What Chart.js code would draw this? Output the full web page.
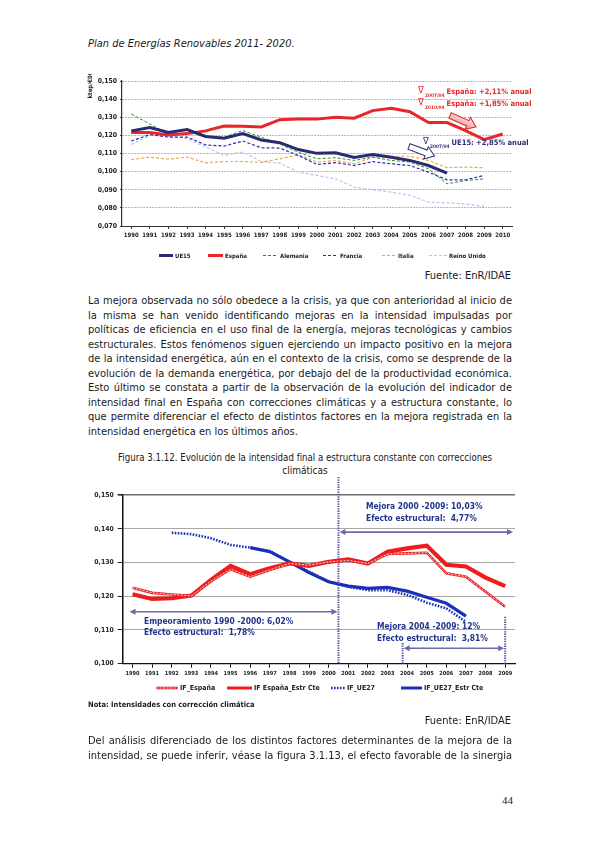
<!DOCTYPE html>
<html lang="es"><head><meta charset="utf-8">
<title>Intensidad energética</title>
<script src="https://cdn.jsdelivr.net/npm/chart.js@4.4.1/dist/chart.umd.min.js"></script>
<style>
html,body{margin:0;padding:0;background:#fff}
body{position:relative;width:595px;height:842px;overflow:hidden;font-family:"DejaVu Sans Condensed","DejaVu Sans",sans-serif;color:#1a1a1a}
.t{position:absolute;white-space:nowrap;line-height:14px}
.j{position:absolute;left:88px;width:424px;text-align:justify;text-align-last:justify;font-size:11px;line-height:14px;white-space:normal}
.j.last{text-align-last:left}
canvas{position:absolute}
</style></head><body>
<div class="t" style="left:88px;top:37px;font-size:11px;font-style:italic">Plan de Energías Renovables 2011- 2020.</div>
<canvas id="c1" width="460" height="190" style="left:80px;top:74px"></canvas>
<div class="t" style="right:84px;top:269px;font-size:11px">Fuente: EnR/IDAE</div>

<div class="j" style="top:294px">La mejora observada no sólo obedece a la crisis, ya que con anterioridad al inicio de</div>
<div class="j" style="top:308.5px">la misma se han venido identificando mejoras en la intensidad impulsadas por</div>
<div class="j" style="top:323px">políticas de eficiencia en el uso final de la energía, mejoras tecnológicas y cambios</div>
<div class="j" style="top:337.5px">estructurales. Estos fenómenos siguen ejerciendo un impacto positivo en la mejora</div>
<div class="j" style="top:352px">de la intensidad energética, aún en el contexto de la crisis, como se desprende de la</div>
<div class="j" style="top:366.5px">evolución de la demanda energética, por debajo del de la productividad económica.</div>
<div class="j" style="top:381px">Esto último se constata a partir de la observación de la evolución del indicador de</div>
<div class="j" style="top:395.5px">intensidad final en España con correcciones climáticas y a estructura constante, lo</div>
<div class="j" style="top:410px">que permite diferenciar el efecto de distintos factores en la mejora registrada en la</div>
<div class="j last" style="top:424.5px">intensidad energética en los últimos años.</div>

<div class="t" id="cap1" style="left:105px;width:400px;text-align:center;top:451px;font-size:10px">Figura 3.1.12. Evolución de la intensidad final a estructura constante con correcciones</div>
<div class="t" style="left:105px;width:400px;text-align:center;top:464px;font-size:10px">climáticas</div>

<canvas id="c2" width="445" height="226" style="left:80px;top:474px"></canvas>
<div class="t" style="left:88px;top:698px;font-size:7.5px;font-weight:bold">Nota: Intensidades con corrección climática</div>

<div class="t" style="right:84px;top:714px;font-size:11px">Fuente: EnR/IDAE</div>
<div class="j" style="top:734px">Del análisis diferenciado de los distintos factores determinantes de la mejora de la</div>
<div class="j" style="top:748.5px">intensidad, se puede inferir, véase la figura 3.1.13, el efecto favorable de la sinergia</div>
<div class="t" style="left:502px;top:793px;font-size:11px;font-family:'Liberation Serif',serif">44</div>

<script>
// ---------- DATA ----------
const years1 = ['1990','1991','1992','1993','1994','1995','1996','1997','1998','1999','2000',
                '2001','2002','2003','2004','2005','2006','2007','2008','2009','2010'];
const ue15     = [0.1225,0.1243,0.1216,0.1232,0.1194,0.1184,0.1210,0.1175,0.1160,0.1122,0.1101,0.1104,0.1078,0.1094,0.1080,0.1062,0.1034,0.0992,null,null,null];
const espana   = [0.1216,0.1216,0.1203,0.1210,0.1225,0.1252,0.1250,0.1247,0.1287,0.1290,0.1290,0.1300,0.1295,0.1337,0.1350,0.1331,0.1271,0.1271,0.1227,0.1177,0.1208];
const alemania = [0.1318,0.1263,0.1208,0.1236,0.1194,0.1190,0.1227,0.1190,0.1152,0.1107,0.1071,0.1077,0.1062,0.1080,0.1062,0.1053,0.1016,0.0933,0.0951,0.0960,null];
const francia  = [0.1169,0.1205,0.1191,0.1191,0.1148,0.1141,0.1169,0.1132,0.1130,0.1089,0.1040,0.1050,0.1034,0.1055,0.1043,0.1034,0.0997,0.0955,0.0955,0.0979,null];
const italia   = [0.1067,0.1080,0.1069,0.1080,0.1049,0.1056,0.1056,0.1051,0.1071,0.1093,0.1053,0.1062,0.1043,0.1080,0.1085,0.1085,0.1062,0.1022,0.1025,0.1022,null];
const reinoUnido=[0.1150,0.1200,0.1196,0.1182,0.1136,0.1090,0.1108,0.1056,0.1047,0.0997,0.0979,0.0960,0.0915,0.0900,0.0887,0.0870,0.0832,0.0828,0.0822,0.0808,null];
const yRange1 = [0.070, 0.150, 0.010];

const years2 = ['1990','1991','1992','1993','1994','1995','1996','1997','1998','1999',
                '2000','2001','2002','2003','2004','2005','2006','2007','2008','2009'];
const ifEspana     = [0.1225,0.1210,0.1205,0.1201,0.1245,0.1280,0.1258,0.1278,0.1297,0.1292,0.1302,0.1306,0.1297,0.1325,0.1327,0.1329,0.1268,0.1258,0.1213,0.1169];
const ifEspanaEstr = [0.1206,0.1192,0.1194,0.1202,0.1248,0.1290,0.1265,0.1283,0.1297,0.1290,0.1302,0.1309,0.1297,0.1332,0.1342,0.1350,0.1293,0.1288,0.1255,0.1230];
const ifUE27       = [null,null,0.1388,0.1384,0.1372,0.1352,0.1344,0.1334,0.1302,0.1273,0.1243,0.1228,0.1218,0.1218,0.1204,0.1181,0.1164,0.1124,null,null];
const ifUE27Estr   = [null,null,null,null,null,null,0.1344,0.1332,0.1302,0.1270,0.1243,0.1230,0.1223,0.1226,0.1215,0.1197,0.1179,0.1141,null,null];
const yRange2 = [0.100, 0.150, 0.010];

// ---------- text fitting ----------
function fitGroup(sel, target, base){
  const els=[...document.querySelectorAll(sel)];
  let r=1;
  els.forEach(el=>{
    el.style.fontSize=base+'px';
    const s=document.createElement('span');
    s.style.cssText='position:absolute;visibility:hidden;white-space:nowrap;left:0;top:0';
    s.textContent=el.textContent;
    el.appendChild(s);
    const w=s.getBoundingClientRect().width;
    el.removeChild(s);
    r=Math.min(r,(target-1.5)/w);
  });
  els.forEach(el=>el.style.fontSize=(base*r)+'px');
}
fitGroup('.j',424,11);
fitGroup('#cap1',376,10);

// ---------- charts ----------
const F='"DejaVu Sans Condensed","DejaVu Sans",sans-serif';
Chart.defaults.font.family=F;
Chart.defaults.color='#222';
const fmt=v=>Number(v).toFixed(3).replace('.',',');

function blockArrow(ctx,a,b,sw,hw,hl,fill,stroke){
  const ang=Math.atan2(b[1]-a[1],b[0]-a[0]), L=Math.hypot(b[0]-a[0],b[1]-a[1]);
  ctx.save(); ctx.translate(a[0],a[1]); ctx.rotate(ang);
  ctx.beginPath();
  ctx.moveTo(0,-sw/2); ctx.lineTo(L-hl,-sw/2); ctx.lineTo(L-hl,-hw/2); ctx.lineTo(L,0);
  ctx.lineTo(L-hl,hw/2); ctx.lineTo(L-hl,sw/2); ctx.lineTo(0,sw/2); ctx.closePath();
  if(fill==='pink'){
    const g=ctx.createLinearGradient(0,-hw/2,0,hw/2);
    g.addColorStop(0,'#fde8e8'); g.addColorStop(1,'#ee8f8f'); ctx.fillStyle=g;
  } else ctx.fillStyle=fill;
  ctx.fill(); ctx.lineWidth=1; ctx.strokeStyle=stroke; ctx.stroke(); ctx.restore();
}
function anno(ctx,p,sub,txt,color){
  ctx.save(); ctx.fillStyle=color; ctx.textBaseline='middle'; ctx.textAlign='left';
  ctx.font='9.5px '+F; ctx.fillText('∇',p[0],p[1]-1);
  ctx.font='bold 4.8px '+F; ctx.fillText(sub,p[0]+7,p[1]+4);
  const sw=ctx.measureText(sub).width;
  ctx.font='bold 7.5px '+F; ctx.fillText(txt,p[0]+7+sw+2,p[1]);
  ctx.restore();
}
function drawLegend(chart,off,y,items,fontSize){
  const ctx=chart.ctx;
  ctx.save();
  chart.data.datasets.forEach((ds,i)=>{
    const [x,len]=items[i]; const px=x-off.x, py=y-off.y;
    ctx.beginPath(); ctx.setLineDash(ds.borderDash||[]);
    ctx.lineWidth=Math.min(ds.borderWidth,3); ctx.strokeStyle=ds.borderColor;
    ctx.moveTo(px,py); ctx.lineTo(px+len,py); ctx.stroke();
    if(ds.whiteCore){ctx.beginPath();ctx.setLineDash([2,1.5]);ctx.lineWidth=0.8;ctx.strokeStyle='#fff';ctx.moveTo(px,py);ctx.lineTo(px+len,py);ctx.stroke();}
    ctx.setLineDash([]);
    ctx.font='bold '+fontSize+'px '+F; ctx.fillStyle='#222'; ctx.textBaseline='middle';
    ctx.fillText(ds.label,px+len+2,py+0.5);
  });
  ctx.restore();
}

const off1={x:80,y:74};
const topPlugin={id:'topPlugin',afterDraw(chart){
  const ctx=chart.ctx; const P=(x,y)=>[x-off1.x,y-off1.y];
  ctx.save();
  ctx.translate(...P(90.5,85)); ctx.rotate(-Math.PI/2);
  ctx.font='bold 6px '+F; ctx.fillStyle='#222'; ctx.textAlign='center'; ctx.textBaseline='middle';
  ctx.fillText('ktep/€00',0,0);
  ctx.restore();
  blockArrow(ctx,P(450,115.5),P(476,127),6,13,9,'pink','#d42a2a');
  blockArrow(ctx,P(409,146.5),P(434.5,156),6,13,9,'#fff','#2b2b7a');
  anno(ctx,P(418,92),'2007/04','España: +2,11% anual','#e3262b');
  anno(ctx,P(418,104),'2010/04','España: +1,85% anual','#e3262b');
  anno(ctx,P(423,143),'2007/04','UE15: +2,85% anual','#2b2b7a');
  drawLegend(chart,off1,255.5,[[159,14],[208,15],[263,15],[323,15],[382,14],[429,18]],6);
}};

new Chart(document.getElementById('c1'),{
  type:'line',
  data:{labels:years1,datasets:[
    {label:'UE15',data:ue15,borderColor:'#2a2a72',borderWidth:3},
    {label:'España',data:espana,borderColor:'#e8262b',borderWidth:3},
    {label:'Alemania',data:alemania,borderColor:'#2e8a2e',borderWidth:1,borderDash:[3,2]},
    {label:'Francia',data:francia,borderColor:'#2a2ab4',borderWidth:1.2,borderDash:[3,2]},
    {label:'Italia',data:italia,borderColor:'#f2a547',borderWidth:1.2,borderDash:[3,2]},
    {label:'Reino Unido',data:reinoUnido,borderColor:'#bfc0f2',borderWidth:1.2,borderDash:[3,2]}
  ]},
  options:{
    responsive:false,animation:false,
    elements:{point:{radius:0},line:{tension:0,borderCapStyle:'butt'}},
    layout:{padding:{top:6,right:28,left:0,bottom:18}},
    plugins:{legend:{display:false},tooltip:{enabled:false}},
    scales:{
      x:{offset:true,
         grid:{display:true,drawOnChartArea:false,drawTicks:true,tickLength:3,color:'#333'},
         border:{color:'#333',width:1},
         ticks:{font:{size:6,weight:'bold'},color:'#222',maxRotation:0,autoSkip:false,padding:3},
         afterFit(s){s.height=20;}},
      y:{min:yRange1[0],max:yRange1[1],
         ticks:{stepSize:yRange1[2],callback:fmt,font:{size:6.8,weight:'bold'},color:'#222',padding:3},
         grid:{color:'#b4b4b4',lineWidth:1,drawTicks:true,tickLength:2,tickColor:'#333'},
         border:{color:'#333',width:1.2,dash:[2,1]},
         afterFit(s){s.width=42;}}
    }
  },
  plugins:[topPlugin]
});

const off2={x:80,y:474};
const botPlugin={id:'botPlugin',
  afterDatasetsDraw(chart){
    const ctx=chart.ctx; const meta=chart.getDatasetMeta(0);
    ctx.save(); ctx.beginPath(); ctx.setLineDash([2,1.5]); ctx.lineWidth=0.8; ctx.strokeStyle='#fff';
    meta.data.forEach((pt,i)=>{ if(i===0) ctx.moveTo(pt.x,pt.y); else ctx.lineTo(pt.x,pt.y); });
    ctx.stroke(); ctx.restore();
  },
  afterDraw(chart){
    const ctx=chart.ctx, xs=chart.scales.x, ys=chart.scales.y, ca=chart.chartArea;
    const P=(x,y)=>[x-off2.x,y-off2.y];
    const vline=(x,y1)=>{ctx.save();ctx.beginPath();ctx.setLineDash([1.3,1.1]);ctx.lineWidth=2;ctx.strokeStyle='#5a4f9e';ctx.moveTo(x,y1);ctx.lineTo(x,ca.bottom);ctx.stroke();ctx.restore();};
    const harrow=(x1,x2,y)=>{ctx.save();ctx.strokeStyle='#6a6aa8';ctx.fillStyle='#6a6aa8';ctx.lineWidth=1.6;
      ctx.beginPath();ctx.moveTo(x1+4,y);ctx.lineTo(x2-4,y);ctx.stroke();
      ctx.beginPath();ctx.moveTo(x1,y);ctx.lineTo(x1+6,y-3);ctx.lineTo(x1+6,y+3);ctx.closePath();ctx.fill();
      ctx.beginPath();ctx.moveTo(x2,y);ctx.lineTo(x2-6,y-3);ctx.lineTo(x2-6,y+3);ctx.closePath();ctx.fill();ctx.restore();};
    const vx1=xs.getPixelForValue(10.5), vx2=xs.getPixelForValue(19), vx3=xs.getPixelForValue(13.77);
    vline(vx1,P(0,477)[1]);
    vline(vx2,ys.getPixelForValue(0.1139));
    vline(vx3,ys.getPixelForValue(0.1061));
    harrow(xs.getPixelForValue(-0.15),vx1-1,ys.getPixelForValue(0.1154));
    harrow(vx1+1,ca.right-2,ys.getPixelForValue(0.139));
    harrow(vx3+1,vx2-1,ys.getPixelForValue(0.1046));
    ctx.save(); ctx.fillStyle='#22358a'; ctx.font='bold 8.4px '+F; ctx.textBaseline='middle'; ctx.textAlign='left';
    const T=(s,x,y)=>{const p=P(x,y);ctx.fillText(s,p[0],p[1]);};
    T('Empeoramiento 1990 -2000: 6,02%',144,621.7);
    T('Efecto estructural:  1,78%',144,633.3);
    T('Mejora 2000 -2009: 10,03%',366,507.3);
    T('Efecto estructural:  4,77%',366,519);
    T('Mejora 2004 -2009: 12%',377,627.3);
    T('Efecto estructural:  3,81%',377,639);
    ctx.restore();
    drawLegend(chart,off2,688,[[156,22],[227,25],[331,14],[401,21]],7);
  }
};

new Chart(document.getElementById('c2'),{
  type:'line',
  data:{labels:years2,datasets:[
    {label:'IF_España',data:ifEspana,borderColor:'#e8262b',borderWidth:2.6,whiteCore:true},
    {label:'IF España_Estr Cte',data:ifEspanaEstr,borderColor:'#f01c1c',borderWidth:4.2},
    {label:'IF_UE27',data:ifUE27,borderColor:'#1b2fb6',borderWidth:2.6,borderDash:[1.6,1.4]},
    {label:'IF_UE27_Estr Cte',data:ifUE27Estr,borderColor:'#1c30b8',borderWidth:3.2}
  ]},
  options:{
    responsive:false,animation:false,
    elements:{point:{radius:0},line:{tension:0,borderCapStyle:'butt'}},
    layout:{padding:{top:21,right:10,left:0,bottom:18}},
    plugins:{legend:{display:false},tooltip:{enabled:false}},
    scales:{
      x:{offset:true,
         grid:{display:true,drawOnChartArea:false,drawTicks:true,tickLength:4,color:'#111'},
         border:{color:'#111',width:1.3},
         ticks:{font:{size:5.6,weight:'bold'},color:'#222',maxRotation:0,autoSkip:false,padding:2},
         afterFit(s){s.height=18.3;}},
      y:{min:yRange2[0],max:yRange2[1],
         ticks:{stepSize:yRange2[2],callback:fmt,font:{size:6.8,weight:'bold'},color:'#222',padding:4},
         grid:{color:c=>Math.abs(c.tick.value-0.15)<1e-6?'#6e6e6e':'#a8a8a8',lineWidth:c=>Math.abs(c.tick.value-0.15)<1e-6?1.6:1,drawTicks:true,tickLength:5,tickColor:'#222'},
         border:{color:'#111',width:1.5},
         afterFit(s){s.width=42.7;}}
    }
  },
  plugins:[botPlugin]
});
</script>
</body></html>
